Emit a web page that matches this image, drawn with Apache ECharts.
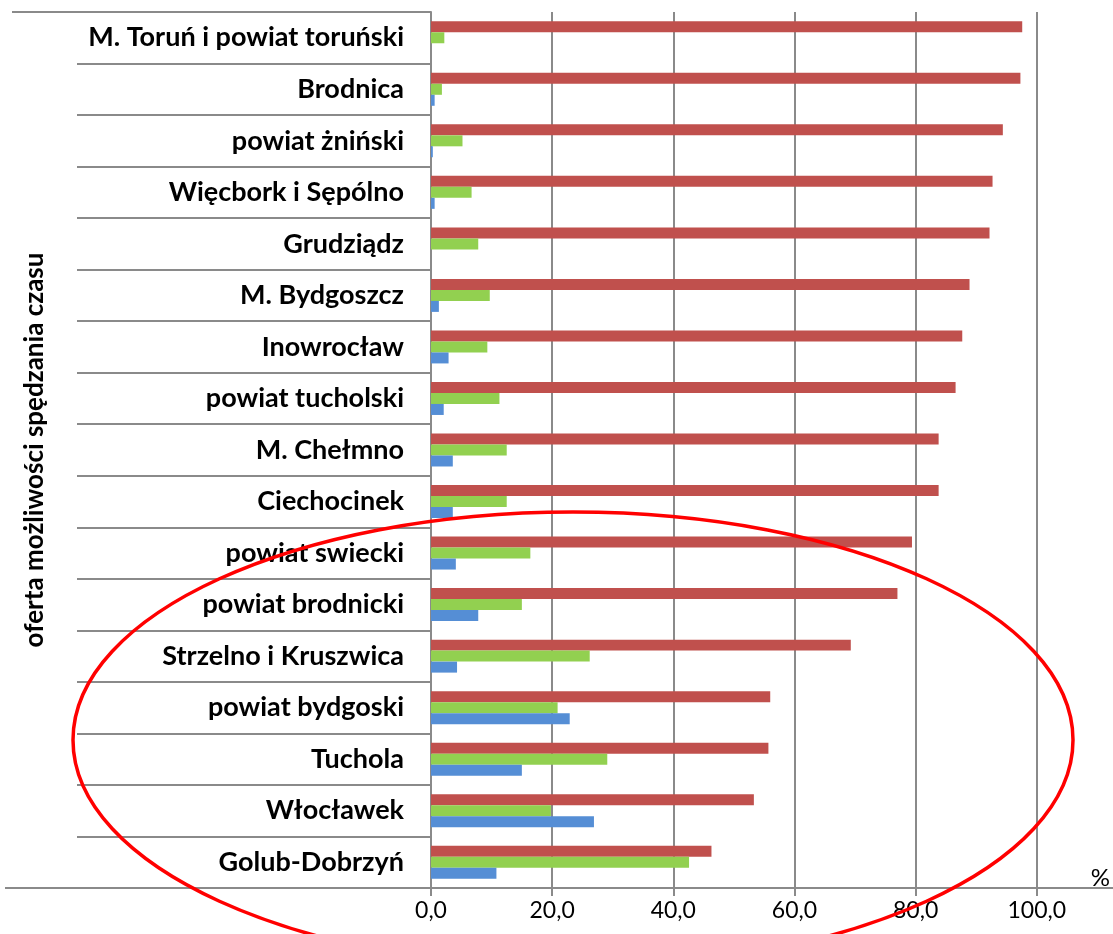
<!DOCTYPE html>
<html>
<head>
<meta charset="utf-8">
<script src="https://cdn.jsdelivr.net/npm/echarts@6/dist/echarts.min.js"></script>
<style>
  html, body { margin: 0; padding: 0; background: #ffffff; }
  #chart { width: 1113px; height: 934px; }
</style>
</head>
<body>
<div id="chart"></div>
<script>
// Regions, listed top to bottom
const categories = [
  'M. Toruń i powiat toruński',
  'Brodnica',
  'powiat żniński',
  'Więcbork i Sępólno',
  'Grudziądz',
  'M. Bydgoszcz',
  'Inowrocław',
  'powiat tucholski',
  'M. Chełmno',
  'Ciechocinek',
  'powiat swiecki',
  'powiat brodnicki',
  'Strzelno i Kruszwica',
  'powiat bydgoski',
  'Tuchola',
  'Włocławek',
  'Golub-Dobrzyń'
];

// Shares in percent, one value per region
const valuesRed   = [97.6, 97.3, 94.4, 92.7, 92.2, 88.9, 87.7, 86.6, 83.8, 83.8, 79.4, 77.0, 69.3, 56.0, 55.7, 53.3, 46.3];
const valuesGreen = [2.2, 1.8, 5.2, 6.7, 7.8, 9.7, 9.3, 11.3, 12.5, 12.5, 16.4, 15.0, 26.2, 20.9, 29.1, 19.8, 42.6];
const valuesBlue  = [0.0, 0.6, 0.3, 0.6, 0.0, 1.3, 2.9, 2.1, 3.6, 3.6, 4.1, 7.8, 4.3, 22.9, 15.0, 26.9, 10.8];

// Value axis ticks
const xTicks = [0, 20, 40, 60, 80, 100];
const axisTitle = 'oferta możliwości spędzania czasu';
const unitLabel = '%';

const GRID = { left: 431, right: 75, top: 12, bottom: 46 };
const W = 1113, H = 934;
const gridBottomY = H - GRID.bottom;
const lineColor = '#8a8a8a';

const chart = echarts.init(document.getElementById('chart'), null, { renderer: 'canvas' });

const barBase = {
  type: 'bar',
  barGap: '0%',
  barCategoryGap: '36%',
  silent: true
};

chart.setOption({
  animation: false,
  backgroundColor: '#ffffff',
  textStyle: { fontFamily: 'Lato' },
  grid: { left: GRID.left, right: GRID.right, top: GRID.top, bottom: GRID.bottom, containLabel: false },
  xAxis: {
    type: 'value',
    min: xTicks[0],
    max: xTicks[xTicks.length - 1],
    interval: xTicks[1] - xTicks[0],
    name: unitLabel,
    nameLocation: 'end',
    nameGap: 54,
    nameTextStyle: { fontFamily: 'Lato', fontSize: 24, color: '#000', verticalAlign: 'bottom', align: 'left', padding: [0, 0, -2, 0] },
    axisLine: { show: true, lineStyle: { color: lineColor, width: 2 } },
    axisTick: { show: true, length: 8, lineStyle: { color: lineColor, width: 2 } },
    splitLine: { show: true, lineStyle: { color: lineColor, width: 2 } },
    axisLabel: {
      margin: 11,
      fontFamily: 'Lato',
      fontSize: 23,
      color: '#000',
      formatter: v => v.toFixed(1).replace('.', ',')
    }
  },
  yAxis: {
    type: 'category',
    data: categories,
    inverse: true,
    axisLine: { show: true, lineStyle: { color: lineColor, width: 2 } },
    axisTick: { show: true, length: 354, lineStyle: { color: lineColor, width: 2 } },
    splitLine: { show: false },
    axisLabel: {
      margin: 27,
      fontFamily: 'Lato',
      fontWeight: 'bold',
      fontSize: 27,
      color: '#000'
    }
  },
  series: [
    Object.assign({ name: 'Seria 1', data: valuesRed,   itemStyle: { color: '#C0504D' } }, barBase),
    Object.assign({ name: 'Seria 2', data: valuesGreen, itemStyle: { color: '#92D050' } }, barBase),
    Object.assign({ name: 'Seria 3', data: valuesBlue,  itemStyle: { color: '#558ED5' } }, barBase)
  ],
  graphic: [
    // vertical title of the category column
    {
      type: 'text', silent: true,
      x: 35, y: GRID.top + (gridBottomY - GRID.top) / 2,
      rotation: Math.PI / 2,
      style: {
        text: axisTitle,
        fontFamily: 'Lato', fontWeight: 'bold', fontSize: 26,
        fill: '#000', align: 'center', verticalAlign: 'middle'
      }
    },
    // outer frame lines of the category column
    { type: 'line', silent: true, shape: { x1: 12, y1: GRID.top, x2: GRID.left, y2: GRID.top }, style: { stroke: lineColor, lineWidth: 2 } },
    { type: 'line', silent: true, shape: { x1: 5, y1: gridBottomY, x2: W, y2: gridBottomY }, style: { stroke: lineColor, lineWidth: 2 } },
    // hand-drawn highlight ring around the lower group of regions
    { type: 'ellipse', silent: true, z: 100, shape: { cx: 573, cy: 740, rx: 500, ry: 228 }, style: { fill: 'none', stroke: '#ff0000', lineWidth: 3.5 } }
  ]
});
</script>
</body>
</html>
